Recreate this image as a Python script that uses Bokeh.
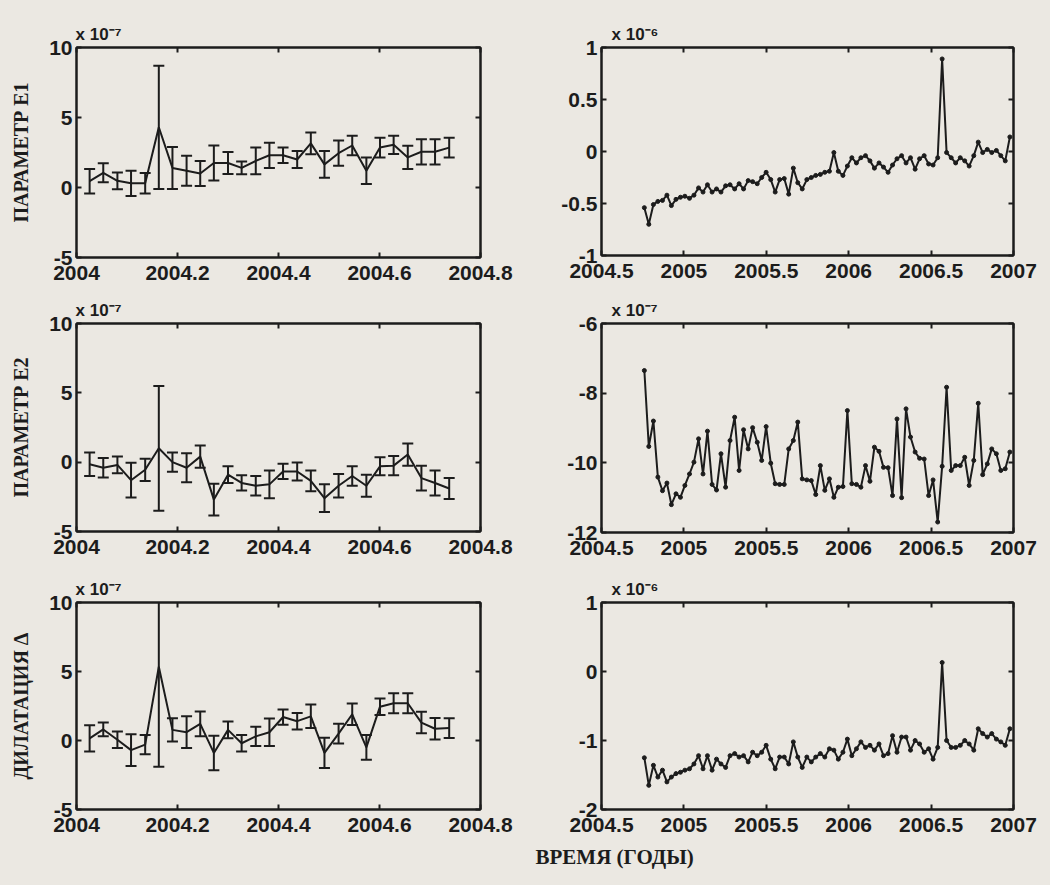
from bokeh.plotting import figure
from bokeh.layouts import column, row
from bokeh.models import FixedTicker, LinearAxis, Range1d, Title
from bokeh.embed import file_html
from bokeh.resources import INLINE

# ---------------- data ----------------
# left column: decimal years, values in units of 1e-7, with error bars
t_left = [2004.026, 2004.053, 2004.081, 2004.108, 2004.136, 2004.163, 2004.190, 2004.218, 2004.245,
          2004.272, 2004.300, 2004.327, 2004.355, 2004.382, 2004.409, 2004.437, 2004.464, 2004.491,
          2004.519, 2004.546, 2004.574, 2004.601, 2004.628, 2004.656, 2004.683, 2004.710, 2004.738]

e1_left = [0.45, 1.05, 0.48, 0.30, 0.30, 4.30, 1.40, 1.20, 1.00, 1.75, 1.75, 1.40, 1.90, 2.30, 2.30,
           2.00, 3.15, 1.65, 2.45, 3.00, 1.20, 2.85, 3.05, 2.15, 2.55, 2.55, 2.85]
e1_left_err = [0.87, 0.68, 0.60, 0.90, 0.73, 4.40, 1.50, 1.07, 0.90, 1.25, 0.78, 0.45, 0.95, 0.90, 0.55,
               0.60, 0.78, 0.95, 0.90, 0.70, 0.95, 0.70, 0.65, 0.83, 0.90, 0.90, 0.70]

e2_left = [-0.15, -0.40, -0.20, -1.30, -0.55, 1.00, 0.00, -0.40, 0.40, -2.70, -0.90, -1.50, -1.70, -1.60,
           -0.67, -0.67, -1.35, -2.60, -1.70, -1.00, -1.70, -0.30, -0.25, 0.55, -1.15, -1.50, -1.90]
e2_left_err = [0.85, 0.70, 0.60, 1.25, 0.80, 4.50, 0.70, 1.05, 0.80, 1.15, 0.60, 0.55, 0.70, 1.00, 0.55,
               0.65, 0.75, 1.00, 0.85, 0.70, 0.80, 0.65, 0.70, 0.80, 0.90, 0.90, 0.75]

dil_left = [0.15, 0.80, 0.05, -0.70, -0.30, 5.35, 0.77, 0.60, 1.20, -0.90, 0.77, -0.20, 0.30, 0.60, 1.70,
            1.40, 1.75, -0.90, 0.50, 1.90, -0.50, 2.45, 2.70, 2.70, 1.30, 0.85, 0.90]
dil_left_err = [0.95, 0.50, 0.60, 1.15, 0.70, 7.25, 0.85, 1.15, 0.90, 1.25, 0.60, 0.60, 0.70, 1.00, 0.55,
                0.60, 0.85, 1.10, 0.72, 0.78, 0.90, 0.60, 0.72, 0.72, 0.78, 0.78, 0.72]

# right column: decimal years
t_right = [2004.760, 2004.787, 2004.815, 2004.842, 2004.870, 2004.897, 2004.924, 2004.952, 2004.979,
           2005.006, 2005.034, 2005.061, 2005.089, 2005.116, 2005.143, 2005.171, 2005.198, 2005.225,
           2005.253, 2005.280, 2005.308, 2005.335, 2005.362, 2005.390, 2005.417, 2005.445, 2005.472,
           2005.499, 2005.527, 2005.554, 2005.581, 2005.609, 2005.636, 2005.664, 2005.691, 2005.718,
           2005.746, 2005.773, 2005.800, 2005.828, 2005.855, 2005.883, 2005.910, 2005.937, 2005.965,
           2005.992, 2006.019, 2006.047, 2006.074, 2006.102, 2006.129, 2006.156, 2006.184, 2006.211,
           2006.239, 2006.266, 2006.293, 2006.321, 2006.348, 2006.375, 2006.403, 2006.430, 2006.458,
           2006.485, 2006.512, 2006.540, 2006.567, 2006.594, 2006.622, 2006.649, 2006.677, 2006.704,
           2006.731, 2006.759, 2006.786, 2006.813, 2006.841, 2006.868, 2006.896, 2006.923, 2006.950,
           2006.978]

# units of 1e-6
e1_right = [-0.54, -0.70, -0.51, -0.48, -0.47, -0.42, -0.52, -0.46, -0.44, -0.43, -0.45, -0.42, -0.35,
            -0.39, -0.32, -0.39, -0.36, -0.39, -0.33, -0.32, -0.36, -0.31, -0.36, -0.28, -0.29, -0.31,
            -0.25, -0.20, -0.27, -0.39, -0.27, -0.26, -0.41, -0.16, -0.30, -0.36, -0.27,
            -0.25, -0.23, -0.22, -0.20, -0.19, -0.01, -0.19, -0.23, -0.14, -0.06, -0.11, -0.06, -0.04,
            -0.09, -0.16, -0.11, -0.15, -0.20, -0.13, -0.07, -0.04, -0.11, -0.06, -0.17, -0.07, -0.04,
            -0.12, -0.13, -0.06, 0.89, -0.01, -0.06, -0.11, -0.06, -0.09, -0.14, -0.04, 0.09, -0.01,
            0.02, -0.01, 0.01, -0.04, -0.09, 0.14]

# units of 1e-7
e2_right = [-7.35, -9.53, -8.80, -10.41, -10.80, -10.58, -11.20, -10.89, -10.99, -10.65, -10.32, -9.98,
            -9.31, -10.32, -9.09, -10.62, -10.78, -9.74, -10.70, -9.36, -8.69, -10.22, -9.05, -9.60,
            -8.99, -9.41, -9.93, -8.96, -10.01, -10.60, -10.62, -10.62, -9.60, -9.36, -8.83, -10.46,
            -10.49,
            -10.51, -10.91, -10.08, -10.79, -10.46, -10.99, -10.70, -10.68, -8.50, -10.60, -10.62,
            -10.70, -10.08, -10.53, -9.55, -9.67, -10.13, -10.14, -10.94, -8.74, -11.00, -8.45, -9.26,
            -9.69, -9.87, -9.89, -10.94, -10.49, -11.70, -10.10, -7.83, -10.22, -10.08, -10.08, -9.84,
            -10.65, -9.93, -8.29, -10.34, -10.03, -9.60, -9.74, -10.22, -10.17, -9.69]

# units of 1e-6
dil_right = [-1.25, -1.65, -1.36, -1.53, -1.43, -1.60, -1.53, -1.48, -1.46, -1.43, -1.41, -1.34, -1.22,
             -1.41, -1.22, -1.43, -1.27, -1.34, -1.39, -1.22, -1.19, -1.24, -1.22, -1.31, -1.17, -1.22,
             -1.17, -1.07, -1.27, -1.41, -1.24, -1.24, -1.34, -1.02, -1.24, -1.39, -1.24,
             -1.31, -1.24, -1.19, -1.24, -1.12, -1.14, -1.27, -1.17, -0.98, -1.22, -1.12, -1.02, -1.10,
             -1.07, -1.14, -1.05, -1.22, -1.19, -0.93, -1.17, -0.95, -0.95, -1.14, -1.00, -1.05, -1.17,
             -1.12, -1.27, -1.10, 0.13, -1.00, -1.10, -1.10, -1.07, -1.00, -1.05, -1.14, -0.83, -0.90,
             -0.95, -0.90, -0.98, -1.02, -1.07, -0.83]

# axes / ticks
xticks_left = [2004.0, 2004.2, 2004.4, 2004.6, 2004.8]
xlabels_left = ["2004", "2004.2", "2004.4", "2004.6", "2004.8"]
yticks_left = [-5, 0, 5, 10]
ylabels_left = ["-5", "0", "5", "10"]

xticks_right = [2004.5, 2005.0, 2005.5, 2006.0, 2006.5, 2007.0]
xlabels_right = ["2004.5", "2005", "2005.5", "2006", "2006.5", "2007"]
yticks_e1r = [-1.0, -0.5, 0.0, 0.5, 1.0]
ylabels_e1r = ["-1", "-0.5", "0", "0.5", "1"]
yticks_e2r = [-12, -10, -8, -6]
ylabels_e2r = ["-12", "-10", "-8", "-6"]
yticks_dr = [-2, -1, 0, 1]
ylabels_dr = ["-2", "-1", "0", "1"]

multiplier_texts = ["x 10⁻⁷", "x 10⁻⁶", "x 10⁻⁷", "x 10⁻⁷", "x 10⁻⁷", "x 10⁻⁶"]
ylabel_texts = ["ПАРАМЕТР E1", "ПАРАМЕТР E2", "ДИЛАТАЦИЯ Δ"]
xlabel_text = "ВРЕМЯ (ГОДЫ)"

# ---------------- style ----------------
BG = "#ebe8e2"
INK = "#1c1c1c"
TICK_FONT = "Liberation Sans"
SERIF = "Liberation Serif"


def style_axis(ax, ticks, labels, show_labels=True, standoff=4):
    ax.ticker = FixedTicker(ticks=ticks)
    if show_labels:
        ax.major_label_overrides = dict(zip(ticks, labels))
    else:
        ax.major_label_overrides = {t: "" for t in ticks}
    ax.axis_line_color = INK
    ax.axis_line_width = 2
    ax.major_tick_line_color = INK
    ax.major_tick_line_width = 2
    ax.major_tick_in = 5
    ax.major_tick_out = 0
    ax.minor_tick_line_color = None
    ax.major_label_text_font = TICK_FONT
    ax.major_label_text_font_style = "bold"
    ax.major_label_text_font_size = "21px" if show_labels else "1px"
    ax.major_label_text_color = INK
    ax.major_label_standoff = standoff if show_labels else 0


def make_fig(xr, yr, xt, xl, yt, yl, fw, fh, bl, br, bt, bb, mult, mult_dx, ylabel=None):
    p = figure(frame_width=fw, frame_height=fh, x_range=Range1d(*xr), y_range=Range1d(*yr),
               output_backend="svg", toolbar_location=None, tools="",
               min_border_left=bl, min_border_right=br, min_border_top=bt, min_border_bottom=bb,
               background_fill_color=BG, border_fill_color=BG,
               outline_line_color=INK, outline_line_width=2)
    p.grid.visible = False
    style_axis(p.xaxis[0], xt, xl, standoff=8)
    style_axis(p.yaxis[0], yt, yl, standoff=4)
    if ylabel is not None:
        ax = p.yaxis[0]
        ax.axis_label = ylabel
        ax.axis_label_text_font = SERIF
        ax.axis_label_text_font_style = "bold"
        ax.axis_label_text_font_size = "20px"
        ax.axis_label_text_color = INK
        ax.axis_label_standoff = 14
    top = LinearAxis()
    style_axis(top, xt, xl, show_labels=False)
    right = LinearAxis()
    style_axis(right, yt, yl, show_labels=False)
    p.add_layout(top, "above")
    p.add_layout(right, "right")
    # scale multiplier above the top-left corner of the frame
    p.add_layout(Title(text=mult, align="left", offset=mult_dx, standoff=8,
                       text_font=TICK_FONT, text_font_style="bold", text_font_size="17px",
                       text_color=INK), "above")
    return p


def draw_errorbars(p, t, v, e):
    lo = [a - b for a, b in zip(v, e)]
    hi = [a + b for a, b in zip(v, e)]
    p.segment(x0=t, y0=lo, x1=t, y1=hi, line_color=INK, line_width=2)
    p.scatter(x=t, y=hi, marker="dash", size=11, line_color=INK, line_width=2)
    p.scatter(x=t, y=lo, marker="dash", size=11, line_color=INK, line_width=2)
    p.line(x=t, y=v, line_color=INK, line_width=2)


def draw_series(p, t, v):
    p.line(x=t, y=v, line_color=INK, line_width=2)
    p.scatter(x=t, y=v, marker="circle", size=4, fill_color=INK, line_color=INK)


XL = (2004.0, 2004.8)
XR = (2004.5, 2007.0)

p1 = make_fig(XL, (-5, 10), xticks_left, xlabels_left, yticks_left, ylabels_left,
              404, 210, 76, 50, 47, 33, multiplier_texts[0], -1, ylabel_texts[0])
draw_errorbars(p1, t_left, e1_left, e1_left_err)

p2 = make_fig(XR, (-1, 1), xticks_right, xlabels_right, yticks_e1r, ylabels_e1r,
              412, 208, 71, 35, 45, 37, multiplier_texts[1], 10)
draw_series(p2, t_right, e1_right)

p3 = make_fig(XL, (-5, 10), xticks_left, xlabels_left, yticks_left, ylabels_left,
              404, 208, 76, 50, 33, 39, multiplier_texts[2], -1, ylabel_texts[1])
draw_errorbars(p3, t_left, e2_left, e2_left_err)

p4 = make_fig(XR, (-12, -6), xticks_right, xlabels_right, yticks_e2r, ylabels_e2r,
              412, 209, 71, 35, 33, 38, multiplier_texts[3], 10)
draw_series(p4, t_right, e2_right)

p5 = make_fig(XL, (-5, 10), xticks_left, xlabels_left, yticks_left, ylabels_left,
              404, 207, 76, 50, 31, 75, multiplier_texts[4], -1, ylabel_texts[2])
draw_errorbars(p5, t_left, dil_left, dil_left_err)

p6 = make_fig(XR, (-2, 1), xticks_right, xlabels_right, yticks_dr, ylabels_dr,
              412, 207, 71, 35, 32, 74, multiplier_texts[5], 10)
draw_series(p6, t_right, dil_right)
p6.add_layout(Title(text=xlabel_text, align="left", offset=-66, standoff=16,
                    text_font=SERIF, text_font_size="21px", text_font_style="bold",
                    text_color=INK), "below")

layout = column(row(p1, p2), row(p3, p4), row(p5, p6))

html = file_html(layout, INLINE, title="plot")
style = ("<style>html, body {margin:0 !important; padding:0 !important; "
         "background-color:%s !important; overflow:hidden;}</style>" % BG)
html = html.replace("</head>", style + "</head>", 1)
open("out.html", "w").write(html)
